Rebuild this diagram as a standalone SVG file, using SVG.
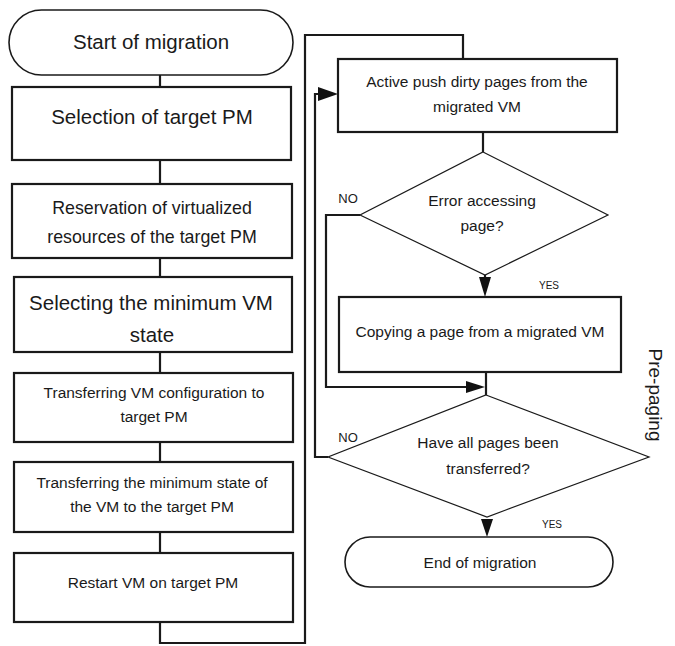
<svg xmlns="http://www.w3.org/2000/svg" width="675" height="646" viewBox="0 0 675 646">
<style>
.box{fill:#fff;stroke:#1a1a1a;stroke-width:2.2}
.term{fill:#fff;stroke:#1a1a1a;stroke-width:1.6}
.dia{fill:#fff;stroke:#1a1a1a;stroke-width:1.2}
.ln{fill:none;stroke:#1a1a1a;stroke-width:2.2}
.t{font-family:"Liberation Sans",Arial,sans-serif;fill:#1a1a1a;text-anchor:middle}
.big{font-size:20.5px}
.mid{font-size:17.8px}
.sm{font-size:15.5px}
.lbl{font-size:13px}
.ys{font-size:10px}
.ar{fill:#111}
</style>
<rect width="675" height="646" fill="#fff"/>
<g id="connectors">
<line class="ln" x1="160" y1="75" x2="160" y2="87"/>
<line class="ln" x1="160" y1="160" x2="160" y2="184"/>
<line class="ln" x1="160" y1="258" x2="160" y2="277"/>
<line class="ln" x1="160" y1="352" x2="160" y2="373"/>
<line class="ln" x1="160" y1="442" x2="160" y2="462"/>
<line class="ln" x1="160" y1="532" x2="160" y2="553"/>
<polyline class="ln" points="160,622 160,643 305,643 305,35 463,35 463,59"/>
<line class="ln" x1="483" y1="132" x2="483" y2="152"/>
<polyline class="ln" points="360,215 326,215 326,387 468,387"/>
<polygon class="ar" points="466,381 485,387 466,393"/>
<line class="ln" x1="485" y1="275" x2="485" y2="280"/>
<polygon class="ar" points="479,277 491,277 485,297"/>
<line class="ln" x1="486" y1="372" x2="486" y2="395"/>
<polyline class="ln" points="328,457 315,457 315,94 320,94"/>
<polygon class="ar" points="318,87 338,94 318,101"/>
<polygon class="ar" points="481,519 493,519 487,537"/>
</g>
<g id="start">
<rect class="term" x="9" y="10" width="284" height="65" rx="32.5" ry="32.5"/>
<text class="t big" x="151" y="49">Start of migration</text>
</g>
<g id="n1">
<rect class="box" x="12" y="87" width="279" height="73"/>
<text class="t big" x="152" y="124">Selection of target PM</text>
</g>
<g id="n2">
<rect class="box" x="12" y="184" width="280" height="74"/>
<text class="t mid" x="152" y="214">Reservation of virtualized</text>
<text class="t mid" x="152" y="243">resources of the target PM</text>
</g>
<g id="n3">
<rect class="box" x="14" y="277" width="278" height="75"/>
<text class="t big" x="151" y="310">Selecting the minimum VM</text>
<text class="t big" x="152" y="342">state</text>
</g>
<g id="n4">
<rect class="box" x="14" y="373" width="279" height="69"/>
<text class="t sm" x="154" y="398">Transferring VM configuration to</text>
<text class="t sm" x="154" y="422">target PM</text>
</g>
<g id="n5">
<rect class="box" x="14" y="462" width="279" height="70"/>
<text class="t sm" x="152" y="488">Transferring the minimum state of</text>
<text class="t sm" x="152" y="512">the VM to the target PM</text>
</g>
<g id="n6">
<rect class="box" x="14" y="553" width="279" height="69"/>
<text class="t sm" x="153" y="588">Restart VM on target PM</text>
</g>
<g id="n7">
<rect class="box" x="338" y="59" width="279" height="73"/>
<text class="t sm" x="477" y="87">Active push dirty pages from the</text>
<text class="t sm" x="477" y="112">migrated VM</text>
</g>
<g id="d1">
<polygon class="dia" points="483,152 608,215 485,275 360,215"/>
<text class="t sm" x="482" y="206">Error accessing</text>
<text class="t sm" x="482" y="231">page?</text>
<text class="t lbl" x="348" y="203">NO</text>
<text class="t ys" x="549" y="289">YES</text>
</g>
<g id="n8">
<rect class="box" x="339" y="297" width="282" height="75"/>
<text class="t sm" x="480" y="337">Copying a page from a migrated VM</text>
</g>
<g id="d2">
<polygon class="dia" points="486,395 649,457 487,517 328,457"/>
<text class="t sm" x="488" y="448">Have all pages been</text>
<text class="t sm" x="488" y="474">transferred?</text>
<text class="t lbl" x="348" y="442">NO</text>
<text class="t ys" x="552" y="528">YES</text>
</g>
<g id="end">
<rect class="term" x="345" y="537" width="268" height="50" rx="25" ry="25"/>
<text class="t sm" x="480" y="568">End of migration</text>
</g>
<text class="t" style="font-size:19px" x="0" y="0" transform="translate(649,395) rotate(90)">Pre-paging</text>
</svg>
